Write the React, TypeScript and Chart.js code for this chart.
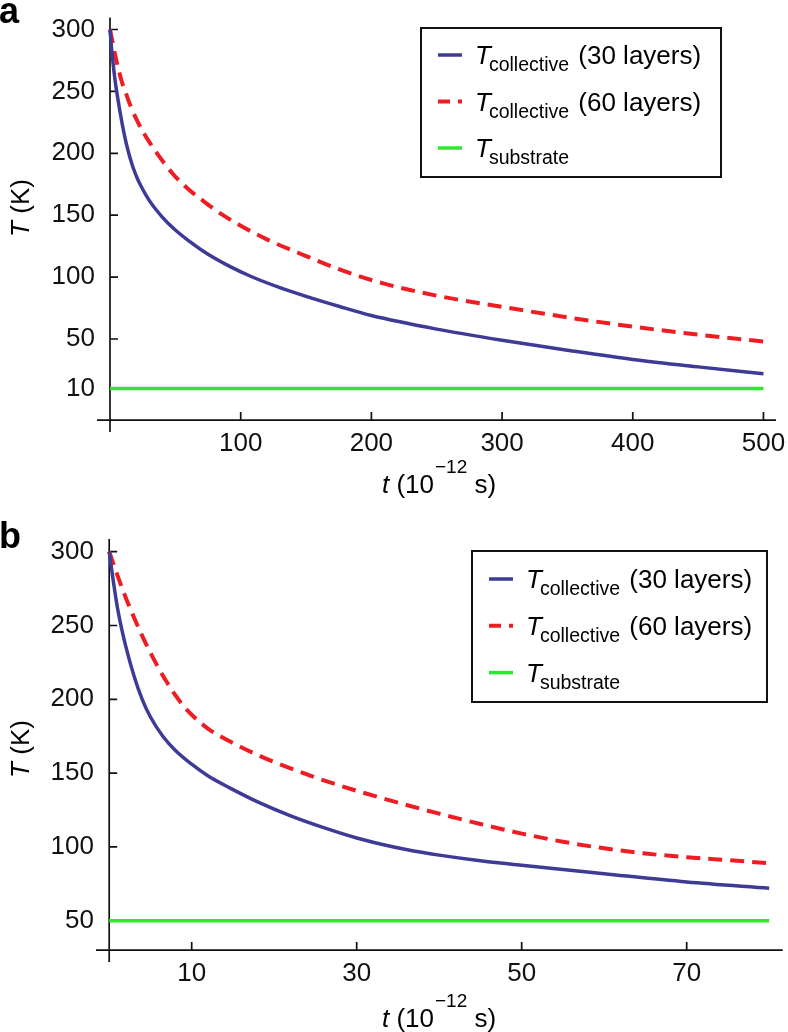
import React, { useEffect, useRef } from 'react';
import { Chart, registerables } from 'chart.js';

Chart.register(...registerables);

// ---------- data ----------
const timeA = [0, 1, 2, 3, 4, 6, 8, 10, 12, 14, 16, 18, 21, 24, 30, 40, 50, 60, 75, 92, 108, 130, 150, 175, 200, 250, 300, 350, 400, 450, 500];
const collective30A = [300, 287, 276, 266.5, 258, 244, 231.5, 220, 210, 201.5, 194, 187.5, 179.5, 173, 162, 148.5, 138, 129.5, 118.5, 108.5, 100.5, 91.5, 84.5, 76.5, 69, 58, 49, 41, 33.5, 27.5, 22];
const timeA60 = [0, 2, 4, 6, 9, 12, 16, 20, 26, 36, 48, 60, 72, 85, 100, 120, 150, 175, 207, 250, 300, 350, 400, 450, 500];
const collective60A = [300, 289.5, 279, 270, 258, 249, 237.5, 228, 216, 200, 183.5, 171, 161, 151, 141.5, 130.5, 117, 106.5, 95.5, 85, 76, 67.5, 60, 53.5, 48];
const substrateTimeA = [0, 500];
const substrateA = [10, 10];
const xTicksA = [100, 200, 300, 400, 500];
const yTicksA = [10, 50, 100, 150, 200, 250, 300];

const timeB = [0, 0.5, 1, 1.5, 2, 3, 4, 5, 6.5, 8, 10, 12, 14.6, 18, 22, 26, 30, 33, 36, 40, 45, 50, 60, 70, 80];
const collective30B = [300, 280, 262, 248, 236, 216, 200, 188, 175, 165.5, 156, 148, 140, 130.5, 121, 113, 106, 101.8, 98.2, 94.4, 90.6, 87.6, 81.8, 76.2, 72];
const timeB60 = [0, 1, 2, 3, 4, 5, 6, 7, 8, 9, 10, 12, 14.6, 16, 18.5, 20, 25, 30, 35, 40, 45, 50, 55, 60, 65, 70, 75, 80];
const collective60B = [300, 284, 269, 255.5, 243, 231.5, 221, 211.5, 203, 195.5, 189.5, 180, 171.5, 167.5, 161, 157.5, 147, 138, 130, 122.5, 115.5, 109, 103.5, 99, 95.5, 93, 91, 89];
const substrateTimeB = [0, 80];
const substrateB = [50, 50];
const xTicksB = [10, 30, 50, 70];
const yTicksB = [50, 100, 150, 200, 250, 300];

const legendSubscripts = ['collective', 'collective', 'substrate'];
const legendSuffixes = [' (30 layers)', ' (60 layers)', ''];

const FONT = '"Liberation Sans", Arial, Helvetica, sans-serif';
const W = 788;
const H = 516;

const decorPlugin = {
  id: 'decor',
  beforeDatasetsDraw(chart: any, _a: any, opts: any) {
    const ctx = chart.ctx;
    const xs = chart.scales.x;
    const ys = chart.scales.y;
    const area = chart.chartArea;
    const x0 = xs.getPixelForValue(0);
    const y0 = ys.getPixelForValue(opts.xAxisAt);
    ctx.save();
    ctx.strokeStyle = '#111';
    ctx.lineWidth = 1.7;
    ctx.beginPath();
    ctx.moveTo(x0, area.top);
    ctx.lineTo(x0, area.bottom);
    ctx.moveTo(area.left, y0);
    ctx.lineTo(area.right, y0);
    for (const t of xs.ticks) {
      const px = xs.getPixelForValue(t.value);
      ctx.moveTo(px, y0);
      ctx.lineTo(px, y0 - 8);
    }
    for (const t of ys.ticks) {
      const py = ys.getPixelForValue(t.value);
      ctx.moveTo(x0, py);
      ctx.lineTo(x0 + 8, py);
    }
    ctx.stroke();
    ctx.restore();
  },
  afterDraw(chart: any, _a: any, opts: any) {
    const ctx = chart.ctx;
    ctx.save();
    ctx.fillStyle = '#000';
    ctx.textBaseline = 'alphabetic';
    ctx.textAlign = 'left';

    // panel letter
    ctx.font = `bold 36px ${FONT}`;
    ctx.fillText(opts.letter, -1, opts.letterY);

    // y title  "T (K)"
    ctx.save();
    ctx.translate(29, opts.yTitleY);
    ctx.rotate(-Math.PI / 2);
    ctx.font = `italic 26px ${FONT}`;
    const wT = ctx.measureText('T').width;
    ctx.font = `26px ${FONT}`;
    const wK = ctx.measureText(' (K)').width;
    const sx = -(wT + wK) / 2;
    ctx.font = `italic 26px ${FONT}`;
    ctx.fillText('T', sx, 0);
    ctx.font = `26px ${FONT}`;
    ctx.fillText(' (K)', sx + wT, 0);
    ctx.restore();

    // x title  "t (10^-12 s)"
    let x = opts.xTitleX;
    const b = opts.xTitleBase;
    ctx.font = `italic 26px ${FONT}`;
    ctx.fillText('t', x, b);
    x += ctx.measureText('t').width;
    ctx.font = `26px ${FONT}`;
    ctx.fillText(' (10', x, b);
    x += ctx.measureText(' (10').width + 1;
    ctx.font = `19px ${FONT}`;
    ctx.fillText('\u221212', x, b - 20);
    x += ctx.measureText('\u221212').width;
    ctx.font = `26px ${FONT}`;
    ctx.fillText(' s)', x, b);

    // legend
    const box = opts.legend;
    ctx.lineWidth = 2;
    ctx.strokeStyle = '#111';
    ctx.strokeRect(box.x, box.y, box.w, box.h);
    chart.data.datasets.forEach((ds: any, i: number) => {
      const cy = box.y + box.rowTop + i * box.rowGap;
      ctx.save();
      ctx.strokeStyle = ds.borderColor;
      ctx.lineWidth = ds.borderWidth;
      ctx.setLineDash(ds.borderDash ? [12, 8] : []);
      ctx.beginPath();
      ctx.moveTo(box.x + 17, cy);
      ctx.lineTo(box.x + 41, cy);
      ctx.stroke();
      ctx.restore();
      let lx = box.x + 54;
      const base = cy + 9;
      ctx.font = `italic 26px ${FONT}`;
      ctx.fillText('T', lx, base);
      lx += ctx.measureText('T').width - 2;
      ctx.font = `19.5px ${FONT}`;
      ctx.fillText(legendSubscripts[i], lx, base + 7);
      lx += ctx.measureText(legendSubscripts[i]).width + 2;
      ctx.font = `26px ${FONT}`;
      ctx.fillText(legendSuffixes[i], lx, base);
    });
    ctx.restore();
  },
};

type PanelCfg = {
  letter: string;
  time30: number[];
  c30: number[];
  time60: number[];
  c60: number[];
  subTime: number[];
  sub: number[];
  xTicks: number[];
  yTicks: number[];
  xMin: number;
  xMax: number;
  yMin: number;
  yMax: number;
  xAxisAt: number;
  padTop: number;
  padRight: number;
  yWidth: number;
  xHeight: number;
  letterY: number;
  yTitleY: number;
  xTitleX: number;
  xTitleBase: number;
  legend: { x: number; y: number; w: number; h: number; rowTop: number; rowGap: number };
};

const panelA: PanelCfg = {
  letter: 'a',
  time30: timeA,
  c30: collective30A,
  time60: timeA60,
  c60: collective60A,
  subTime: substrateTimeA,
  sub: substrateA,
  xTicks: xTicksA,
  yTicks: yTicksA,
  xMin: -9.95,
  xMax: 509.6,
  yMin: -25.1,
  yMax: 309.6,
  xAxisAt: -15.5,
  padTop: 13,
  padRight: 12,
  yWidth: 97,
  xHeight: 84,
  letterY: 23,
  yTitleY: 208,
  xTitleX: 382,
  xTitleBase: 493,
  legend: { x: 421, y: 28, w: 300, h: 149, rowTop: 27, rowGap: 46.5 },
};

const panelB: PanelCfg = {
  letter: 'b',
  time30: timeB,
  c30: collective30B,
  time60: timeB60,
  c60: collective60B,
  subTime: substrateTimeB,
  sub: substrateB,
  xTicks: xTicksB,
  yTicks: yTicksB,
  xMin: -1.6,
  xMax: 81.64,
  yMin: 22.0,
  yMax: 308.6,
  xAxisAt: 30.1,
  padTop: 23,
  padRight: 5.3,
  yWidth: 96,
  xHeight: 70,
  letterY: 32,
  yTitleY: 233,
  xTitleX: 382,
  xTitleBase: 511,
  legend: { x: 472, y: 35, w: 295, h: 151, rowTop: 28, rowGap: 46.8 },
};

function Panel({ cfg, top }: { cfg: PanelCfg; top: number }) {
  const ref = useRef<HTMLCanvasElement>(null);
  useEffect(() => {
    const tickFont = { family: FONT, size: 26 };
    const chart = new Chart(ref.current as HTMLCanvasElement, {
      type: 'line',
      data: {
        datasets: [
          {
            label: 'T collective (30 layers)',
            data: cfg.time30.map((t, i) => ({ x: t, y: cfg.c30[i] })),
            borderColor: '#3d3b96',
            borderWidth: 3.5,
            pointRadius: 0,
            cubicInterpolationMode: 'monotone',
            fill: false,
          },
          {
            label: 'T collective (60 layers)',
            data: cfg.time60.map((t, i) => ({ x: t, y: cfg.c60[i] })),
            borderColor: '#ee1d23',
            borderWidth: 4,
            borderDash: [14, 8],
            pointRadius: 0,
            cubicInterpolationMode: 'monotone',
            fill: false,
          },
          {
            label: 'T substrate',
            data: cfg.subTime.map((t, i) => ({ x: t, y: cfg.sub[i] })),
            borderColor: '#2fe82f',
            borderWidth: 3.5,
            pointRadius: 0,
            fill: false,
          },
        ],
      } as any,
      options: {
        responsive: false,
        animation: false,
        devicePixelRatio: 1,
        layout: { padding: { left: 0, top: cfg.padTop, right: cfg.padRight, bottom: 0 } },
        scales: {
          x: {
            type: 'linear',
            min: cfg.xMin,
            max: cfg.xMax,
            grid: { display: false, drawTicks: false },
            border: { display: false },
            ticks: { font: tickFont, color: '#111', padding: -3.5, autoSkip: false, maxRotation: 0 },
            afterBuildTicks: (s: any) => {
              s.ticks = cfg.xTicks.map((v) => ({ value: v }));
            },
            afterFit: (s: any) => {
              s.height = cfg.xHeight;
            },
          },
          y: {
            type: 'linear',
            min: cfg.yMin,
            max: cfg.yMax,
            grid: { display: false, drawTicks: false },
            border: { display: false },
            ticks: { font: tickFont, color: '#111', padding: 2, autoSkip: false },
            afterBuildTicks: (s: any) => {
              s.ticks = cfg.yTicks.map((v) => ({ value: v }));
            },
            afterFit: (s: any) => {
              s.width = cfg.yWidth;
            },
          },
        },
        plugins: {
          legend: { display: false },
          tooltip: { enabled: false },
          decor: {
            letter: cfg.letter,
            xAxisAt: cfg.xAxisAt,
            letterY: cfg.letterY,
            yTitleY: cfg.yTitleY,
            xTitleX: cfg.xTitleX,
            xTitleBase: cfg.xTitleBase,
            legend: cfg.legend,
          },
        },
      } as any,
      plugins: [decorPlugin],
    });
    return () => chart.destroy();
  }, []);
  return (
    <canvas
      ref={ref}
      width={W}
      height={H}
      style={{ position: 'absolute', left: 0, top, width: W, height: H, display: 'block' }}
    />
  );
}

export default function App() {
  return (
    <div style={{ position: 'absolute', left: 0, top: 0, width: W, height: 1032, background: '#fff' }}>
      <Panel cfg={panelA} top={0} />
      <Panel cfg={panelB} top={H} />
    </div>
  );
}
